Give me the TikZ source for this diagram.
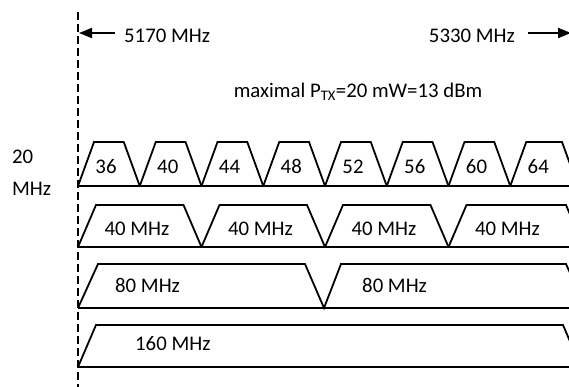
\documentclass[tikz,border=0pt]{standalone}
\usepackage{fontspec}
\setmainfont{Carlito}
\usetikzlibrary{arrows.meta}
\begin{document}
\begin{tikzpicture}[x=1pt,y=-1pt,
  lbl/.style={inner sep=0pt, font=\fontsize{20.8}{25}\selectfont},
  chan/.style={draw=black, line width=1.8pt, line join=miter},
  arr/.style={draw=black, line width=1.8pt, -{Triangle[length=13pt,width=10pt]}},
  sep/.style={draw=black, line width=2pt, dash pattern=on 8pt off 4pt}]
\useasboundingbox (0,0) rectangle (569,386);
\clip (0,0) rectangle (569,386);
% dashed reference line
\coordinate (dtop) at (78,12);
\coordinate (dbot) at (78,390);
\draw[sep] (dtop) -- (dbot);
% frequency arrows
\node[lbl, anchor=base west] (f1) at (124,42) {5170 MHz};
\node[lbl, anchor=base east] (f2) at (515,42) {5330 MHz};
\coordinate (la0) at (115,33);
\coordinate (la1) at (79,33);
\coordinate (ra0) at (528,33);
\coordinate (ra1) at (571,33);
\draw[arr] (la0) -- (la1);
\draw[arr] (ra0) -- (ra1);
\node[lbl, anchor=base] (ptx) at (358,97) {maximal P\textsubscript{TX}=20 mW=13 dBm};
% row label
\node[lbl, anchor=base west] (r20a) at (12,163) {20};
\node[lbl, anchor=base west] (r20b) at (12,195) {MHz};
% row 1: 20 MHz channels
\foreach \k/\c in {0/36,1/40,2/44,3/48,4/52,5/56,6/60} {
  \pgfmathsetmacro\b{78+61.75*\k}
  \draw[chan] (\b,186) -- (\b+16,142) -- (\b+45.75,142) -- (\b+61.75,186);
  \node[lbl, anchor=base] (c\c) at (\b+28,173) {\c};
}
\draw[chan] (510.25,186) -- (526.25,142) -- (562,142) -- (578,186);
\node[lbl, anchor=base] (c64) at (538.25,173) {64};
\draw[chan] (78,186) -- (580,186);
% row 2: 40 MHz channels
\foreach \k in {0,1,2} {
  \pgfmathsetmacro\b{78+123.5*\k}
  \draw[chan] (\b,247) -- (\b+18,205) -- (\b+105.5,205) -- (\b+123.5,247);
  \node[lbl, anchor=base] (w\k) at (\b+59,235) {40 MHz};
}
\draw[chan] (448.5,247) -- (466.5,205) -- (566,205) -- (584,247);
\node[lbl, anchor=base] (w3) at (507.5,235) {40 MHz};
\draw[chan] (78,247) -- (580,247);
% row 3: 80 MHz channels
\draw[chan] (78,308) -- (98,264) -- (305,264) -- (324,308) -- (341,264) -- (566,264) -- (586,308);
\node[lbl, anchor=base west] (e0) at (115,292) {80 MHz};
\node[lbl, anchor=base west] (e1) at (362,292) {80 MHz};
\draw[chan] (78,308) -- (580,308);
% row 4: 160 MHz channel
\draw[chan] (78,367) -- (96,325) -- (563,325) -- (581,367);
\node[lbl, anchor=base west] (s0) at (135,350) {160 MHz};
\draw[chan] (78,367) -- (580,367);
\end{tikzpicture}
\end{document}
